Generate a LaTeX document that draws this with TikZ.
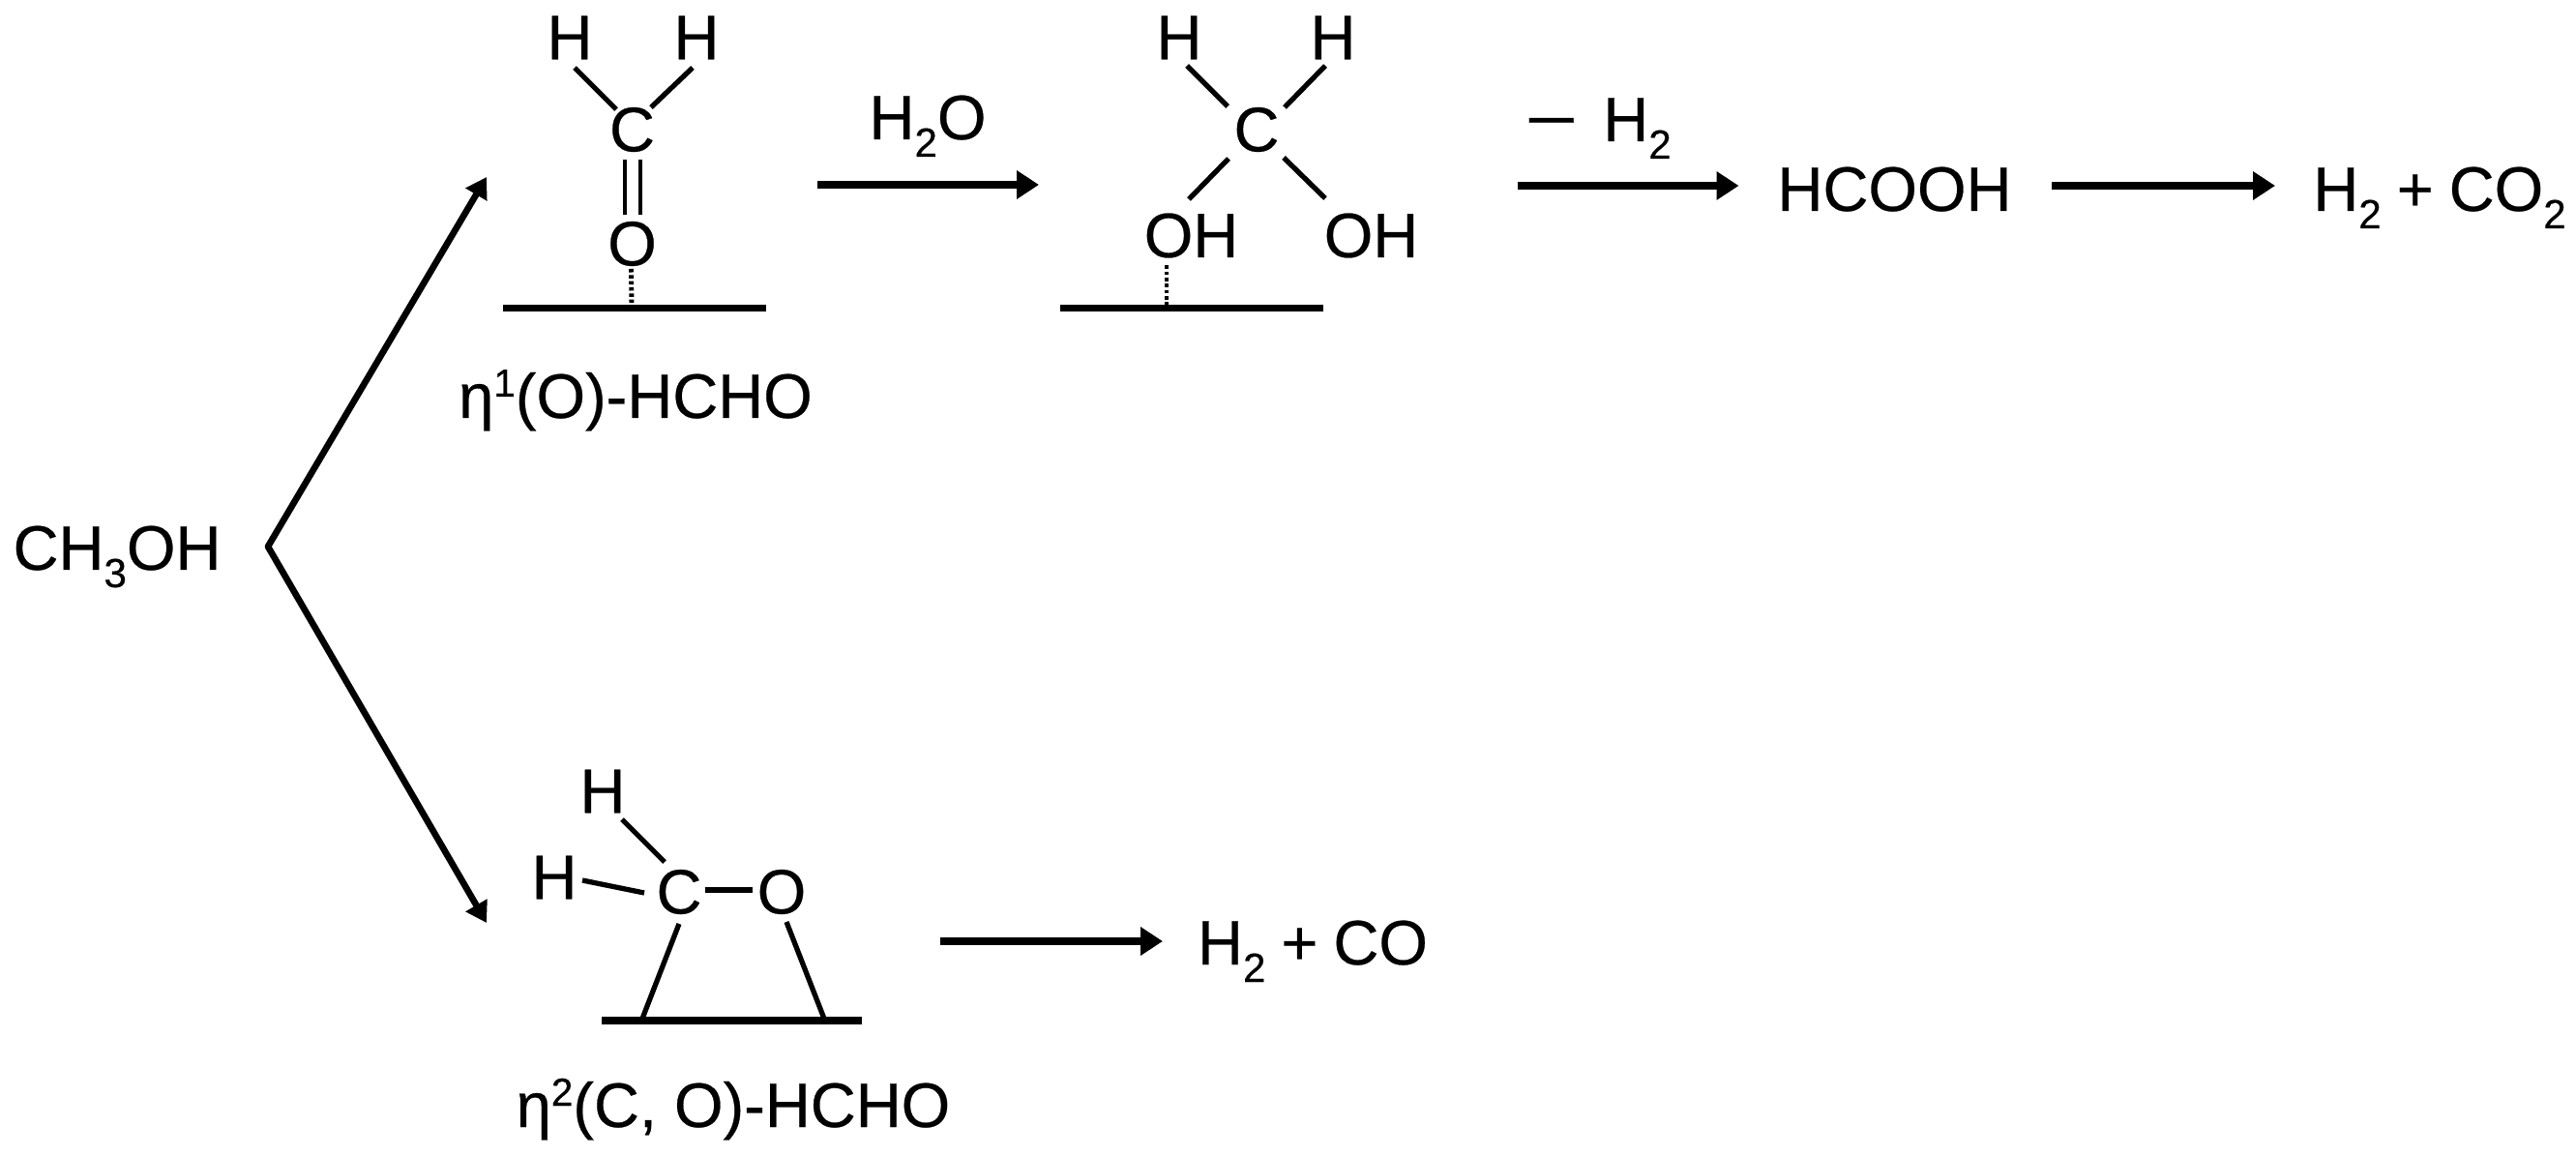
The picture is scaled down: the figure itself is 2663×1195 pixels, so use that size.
\documentclass[tikz,border=0pt]{standalone}
\usepackage{fontspec}
\usepackage{graphicx}
\setmainfont[FakeBold=0.4]{Liberation Sans}
\usetikzlibrary{arrows.meta}
\newcommand{\subs}[1]{\raisebox{-18\unitlength}{\fontsize{24}{24}\selectfont #1}}
\newcommand{\sups}[1]{\raisebox{22\unitlength}{\fontsize{23}{23}\selectfont #1}}
\setlength{\unitlength}{0.02cm}
\tikzset{
  chem/.style={inner sep=0pt,outer sep=0pt,font=\fontsize{37}{40}\selectfont,text=black},
  atom/.style={chem,anchor=center},
  label/.style={chem,anchor=base},
  bond/.style={line width=3pt,black},
  dbond/.style={line width=2.4pt,black},
  weak/.style={line width=2.8pt,black,dash pattern=on 2pt off 1.6pt},
  surf/.style={line width=4.3pt,black},
  rxn/.style={line width=4.5pt,black,-{Triangle[length=13pt,width=16pt]}},
  branch/.style={line width=3.8pt,black,-{Triangle[length=12pt,width=14pt]}},
}
\begin{document}
\begin{tikzpicture}[x=0.02cm,y=-0.02cm]
\useasboundingbox[fill=white] (0,0) rectangle (2663,1195);
% free ends
\coordinate (vertex) at (277,565);
\coordinate (tipup) at (503,183);
\coordinate (tipdown) at (503,954);
\coordinate (s1l) at (520,318.5);
\coordinate (s1r) at (792,318.5);
\coordinate (s1m) at (653,316);
\coordinate (s2l) at (1096,318.5);
\coordinate (s2r) at (1368,318.5);
\coordinate (s2m) at (1206,316);
\coordinate (s3l) at (622,1055);
\coordinate (s3r) at (891,1055);
\coordinate (s3a) at (664,1053);
\coordinate (s3b) at (852,1053);
% text
\node[label] (meoh) at (121,589) {CH\subs{3}OH};
\node[label] (eta1) at (657,432) {η\sups{1}(O)-HCHO};
\node[label] (eta2) at (758,1165) {η\sups{2}(C, O)-HCHO};
\node[label] (water) at (959,144) {H\subs{2}O};
\node[label] (loss) at (1652,146) {\scalebox{1.45}[1]{−}\hspace{26\unitlength}H\subs{2}};
\node[label] (acid) at (1958.5,218) {HCOOH};
\node[label] (prodA) at (2522,218) {H\subs{2}\hspace{16\unitlength}+\hspace{16\unitlength}CO\subs{2}};
\node[label] (prodB) at (1357,997) {H\subs{2}\hspace{16\unitlength}+\hspace{16\unitlength}CO};
% molecule 1
\node[atom] (H1a) at (589,39) {H};
\node[atom] (H1b) at (720,39) {H};
\node[atom] (C1) at (653.5,134) {C};
\node[atom] (O1) at (653.5,252) {O};
\draw[bond] ([shift={(5,31)}]H1a.center) -- ([shift={(-16.5,-21)}]C1.center);
\draw[bond] ([shift={(-4,31)}]H1b.center) -- ([shift={(19.5,-23)}]C1.center);
\draw[dbond] ([shift={(-7.5,31)}]C1.center) -- ([shift={(-7.5,-30)}]O1.center);
\draw[dbond] ([shift={(8.5,31)}]C1.center) -- ([shift={(8.5,-30)}]O1.center);
\draw[weak] ([shift={(-1,26)}]O1.center) -- (s1m);
\draw[surf] (s1l) -- (s1r);
% molecule 2
\node[atom] (H2a) at (1219,39) {H};
\node[atom] (H2b) at (1378,39) {H};
\node[atom] (C2) at (1299,134) {C};
\node[atom] (OHa) at (1231.5,243.5) {OH};
\node[atom] (OHb) at (1417.5,243.5) {OH};
\draw[bond] ([shift={(8,29)}]H2a.center) -- ([shift={(-30,-24)}]C2.center);
\draw[bond] ([shift={(-8,29)}]H2b.center) -- ([shift={(29,-23)}]C2.center);
\draw[bond] ([shift={(-29,30)}]C2.center) -- ([shift={(-2.5,-37.5)}]OHa.center);
\draw[bond] ([shift={(28,29)}]C2.center) -- ([shift={(-47.5,-38.5)}]OHb.center);
\draw[weak] ([shift={(-25.5,31)}]OHa.center) -- (s2m);
\draw[surf] (s2l) -- (s2r);
% molecule 3
\node[atom] (H3a) at (623,818) {H};
\node[atom] (H3b) at (573,907) {H};
\node[atom] (C3) at (702,922) {C};
\node[atom] (O3) at (808,922) {O};
\draw[bond] ([shift={(20,29)}]H3a.center) -- ([shift={(-15,-31)}]C3.center);
\draw[bond] ([shift={(29,3)}]H3b.center) -- ([shift={(-36,1)}]C3.center);
\draw[bond] ([shift={(27,-2)}]C3.center) -- ([shift={(-30,-2)}]O3.center);
\draw[bond] ([shift={(0,33)}]C3.center) -- (s3a);
\draw[bond] ([shift={(5,31)}]O3.center) -- (s3b);
\draw[surf] (s3l) -- (s3r);
% reaction arrows
\draw[branch] (vertex) -- (tipup);
\draw[branch] (vertex) -- (tipdown);
\draw[surf,line width=3.8pt,line cap=round] (vertex) -- ++(0.01,0);
\draw[rxn] ([shift={(191.5,57)}]C1.center) -- ([shift={(-225,57)}]C2.center);
\draw[rxn] ([shift={(270,58)}]C2.center) -- ([shift={(-161,-26)}]acid.base);
\draw[rxn] ([shift={(162.5,-26)}]acid.base) -- ([shift={(-170,-26)}]prodA.base);
\draw[rxn] ([shift={(270,51)}]C3.center) -- ([shift={(-155,-24)}]prodB.base);
\end{tikzpicture}
\end{document}
